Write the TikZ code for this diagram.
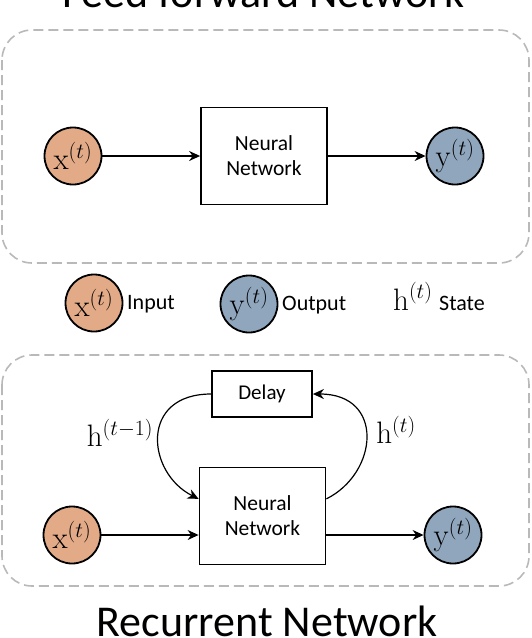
\RequirePackage{fix-cm}
\documentclass[tikz,border=0pt]{standalone}
\usepackage[no-math]{fontspec}
\setmainfont{Carlito}
\usetikzlibrary{positioning, calc, arrows.meta}

\definecolor{inorange}{RGB}{226,170,135}
\definecolor{outblue}{RGB}{143,166,189}
\definecolor{framegray}{RGB}{185,185,185}

\begin{document}
\begin{tikzpicture}[
    x=1pt, y=-1pt,
    nnbox/.style={rectangle, draw=black, line width=1.8pt, minimum width=126pt, minimum height=97pt, align=center, font=\fontsize{21.5}{25}\selectfont},
    delaybox/.style={rectangle, draw=black, line width=1.8pt, minimum width=100pt, minimum height=46pt, font=\fontsize{21}{24}\selectfont},
    varnode/.style={circle, draw=black, line width=1.8pt, minimum size=57pt, inner sep=0pt, font=\fontsize{31}{34}\selectfont},
    legendtext/.style={anchor=base west, inner sep=0pt, font=\fontsize{22}{25}\selectfont},
    statelabel/.style={font=\fontsize{31}{34}\selectfont},
    groupframe/.style={draw=framegray, dash pattern=on 10pt off 5pt, line width=1.6pt, rounded corners=30pt},
    arrow/.style={->, >={Stealth[length=11pt, width=10pt]}, line width=1.2pt},
    heading/.style={anchor=base, inner sep=0pt, font=\fontsize{44}{48}\selectfont}
]
    \useasboundingbox (0,0) rectangle (532,638);

    % Feed forward part
    \node[heading] (fftitle) at (263,7.5) {Feed forward Network};
    \draw[groupframe] (2,30) rectangle (529,263);

    \node[nnbox] (ffnet) at (264,156) {Neural\\Network};
    \node[varnode, fill=inorange] (ffx) at (73,156) {$\mathrm{x}^{(t)}$};
    \node[varnode, fill=outblue] (ffy) at (455,156) {$\mathrm{y}^{(t)}$};

    \draw[arrow] (ffx) -- (ffnet);
    \draw[arrow] (ffnet) -- (ffy);

    % Legend
    \node[varnode, fill=inorange] (legx) at (94,303) {$\mathrm{x}^{(t)}$};
    \node[legendtext] (legxtext) at (127,309) {Input};
    \node[varnode, fill=outblue] (legy) at (249,304) {$\mathrm{y}^{(t)}$};
    \node[legendtext] (legytext) at (282,310) {Output};
    \node[statelabel, anchor=base west, inner sep=0pt] (legh) at (393,310) {$\mathrm{h}^{(t)}$};
    \node[legendtext] (leghtext) at (439,310) {State};

    % Recurrent part
    \draw[groupframe] (2,355) rectangle (529,586);

    \node[delaybox] (delay) at (262,394) {Delay};
    \node[nnbox] (rnet) at (262.5,516) {Neural\\Network};
    \node[varnode, fill=inorange] (rx) at (72,535) {$\mathrm{x}^{(t)}$};
    \node[varnode, fill=outblue] (ry) at (453,535) {$\mathrm{y}^{(t)}$};

    \draw[arrow] (rx) -- (rx -| rnet.west);
    \draw[arrow] (rx -| rnet.east) -- (ry);

    % Feedback loop
    \draw[arrow] (delay.west) .. controls +(-72,0) and +(-52,-26) .. (rnet.165);
    \draw[arrow] (rnet.15) .. controls +(52,-26) and +(72,0) .. (delay.east);
    \node[statelabel] (hprev) at (120,433) {$\mathrm{h}^{(t-1)}$};
    \node[statelabel] (hcur) at (396,430) {$\mathrm{h}^{(t)}$};

    \node[heading] (rtitle) at (267,636) {Recurrent Network};
\end{tikzpicture}
\end{document}
